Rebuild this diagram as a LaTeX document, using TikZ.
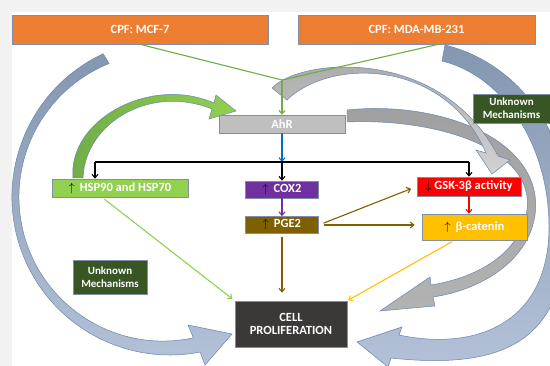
\documentclass[tikz,border=0pt]{standalone}
\usepackage{fontspec}
\setmainfont{Carlito}
\usetikzlibrary{arrows.meta,calc}

\definecolor{pagegray}{HTML}{F2F2F2}
\definecolor{cpforange}{HTML}{ED7D31}
\definecolor{ahrgray}{HTML}{BFBFBF}
\definecolor{hspgreen}{HTML}{92D050}
\definecolor{coxpurple}{HTML}{7030A0}
\definecolor{pgebrown}{HTML}{7F6000}
\definecolor{catyellow}{HTML}{FFC000}
\definecolor{cellgray}{HTML}{3B3838}
\definecolor{unkgreen}{HTML}{375623}
\definecolor{linegreen}{HTML}{70AD47}
\definecolor{ahrblue}{HTML}{0070C0}
\definecolor{boxline}{HTML}{7F8FA9}
\definecolor{bandline}{HTML}{6A87AE}
\definecolor{bandtop}{HTML}{8497B0}
\definecolor{bandbot}{HTML}{B4C2D8}

\tikzset{
  box/.style={draw=boxline, line width=0.6pt, inner sep=1pt, text=white,
    font=\bfseries\fontsize{12.5}{13.5}\selectfont, align=center},
  unkbox/.style={box, fill=unkgreen, font=\bfseries\fontsize{11}{13}\selectfont},
  link/.style={line width=1.1pt, -{Straight Barb[length=3.5pt,width=6pt]}},
  band/.style={draw=bandline, line width=0.5pt},
}
\newcommand{\upmark}{\textcolor{black}{$\uparrow$}\hspace{5pt}}
\newcommand{\downmark}{\textcolor{black}{$\downarrow$}\hspace{3pt}}

\begin{document}
\begin{tikzpicture}[x=1pt, y=-1pt]
  \useasboundingbox (0,0) rectangle (550,366);
  \fill[pagegray] (0,0) rectangle (550,366);
  \fill[white] (12,12) rectangle (550,366);

  % block arrows
  \path[band, top color=bandtop, bottom color=bandbot] (103.2,53.8) arc[start angle=245, end angle=79, radius=158]
    -- (205,365) -- (232,334) -- (188,325) -- (193.4,337.8) arc[start angle=77.8, end angle=248, radius=144] -- cycle;
  \path[band, top color=bandtop, bottom color=bandbot] (445,45) .. controls (515,62) and (570,130) .. (568,215)
    .. controls (568,330) and (520,372) .. (391,358) -- (388,367) -- (357,342) -- (402,327) -- (399,335)
    .. controls (480,352) and (550,320) .. (549,225) .. controls (548,140) and (500,75) .. (442,61) -- cycle;
  \path[band, top color=gray!75, bottom color=gray!60] (347,110) .. controls (440,100) and (545,140) .. (535,215)
    .. controls (528,262) and (480,290) .. (433,297) -- (435,306) -- (380,311) -- (430,277) -- (431,285)
    .. controls (475,278) and (520,255) .. (527,210) .. controls (535,150) and (440,118) .. (347,122) -- cycle;
  \path[band, top color=gray!70, bottom color=gray!35] (272,88) .. controls (300,58) and (440,45) .. (498,156)
    -- (510,160) -- (492,174) -- (476,150) -- (486,153) .. controls (445,58) and (330,58) .. (287,100) -- cycle;
  \path[band, left color=linegreen, right color=hspgreen] (73,178) .. controls (68,120) and (150,75) .. (214,103)
    -- (216,95) -- (236,111) -- (209,119) -- (212,109) .. controls (150,84) and (85,123) .. (83,178) -- cycle;

  % boxes
  \node[box, fill=cpforange, minimum width=256pt, minimum height=29pt] (mcf) at (140,29.5) {CPF: MCF-7};
  \node[box, fill=cpforange, minimum width=237pt, minimum height=29pt] (mda) at (416.5,29.5) {CPF: MDA-MB-231};
  \node[box, fill=ahrgray, minimum width=126pt, minimum height=18pt] (ahr) at (282,124) {AhR};
  \node[box, fill=hspgreen, minimum width=136pt, minimum height=18pt] (hsp) at (120,188) {\upmark HSP90 and HSP70};
  \node[box, fill=coxpurple, minimum width=73pt, minimum height=17pt] (cox) at (282,189.5) {\upmark COX2};
  \node[box, fill=pgebrown, minimum width=73pt, minimum height=17pt] (pge) at (282,225) {\upmark PGE2};
  \node[box, fill=red, minimum width=104pt, minimum height=19pt] (gsk) at (469,186.5) {\downmark GSK-3β activity};
  \node[box, fill=catyellow, minimum width=105pt, minimum height=26pt] (cat) at (474.5,227) {\upmark β-catenin};
  \node[box, fill=cellgray, minimum width=112pt, minimum height=46pt] (cell) at (291,324) {CELL\\PROLIFERATION};
  \node[unkbox, minimum width=74pt, minimum height=34pt] (unkl) at (110,277) {Unknown\\Mechanisms};
  \node[unkbox, minimum width=77pt, minimum height=29pt] (unkr) at (511.5,108.5) {Unknown\\Mechanisms};

  % connectors
  \coordinate (join) at (282,80);
  \coordinate (bus) at (282,162);
  \coordinate (busl) at (95,162);
  \coordinate (busr) at (469,162);
  \draw[linegreen, line width=1.1pt] (mcf.south) -- (join);
  \draw[linegreen, line width=1.1pt] ([xshift=22pt]mda.south) -- (join);
  \draw[link, linegreen] (join) -- (ahr.north);
  \draw[link, ahrblue] (ahr.south) -- (bus);
  \draw[black, line width=1.1pt] (busl) -- (busr);
  \draw[link, black] (busl) -- (busl |- hsp.north);
  \draw[link, black] (bus) -- (cox.north);
  \draw[link, black] (busr) -- (gsk.north);
  \draw[link, coxpurple] (cox) -- (pge);
  \draw[link, pgebrown, shorten <=5pt, shorten >=6pt] (pge.east) -- (gsk.west);
  \draw[link, pgebrown, shorten <=5pt, shorten >=7pt] (pge.east) -- (pge.east -| cat.west);
  \draw[link, pgebrown, shorten <=3pt, shorten >=8pt] (pge.south) -- (pge.south |- cell.north);
  \draw[link, red] (gsk.south) -- (gsk.south |- cat.north);
  \draw[link, catyellow, shorten <=3pt, shorten >=1pt] ([xshift=-20pt]cat.south) -- (cell.north east);
  \draw[link, hspgreen, shorten <=3pt, shorten >=3pt] ([xshift=-18pt]hsp.south) -- (cell.north west);
\end{tikzpicture}
\end{document}
